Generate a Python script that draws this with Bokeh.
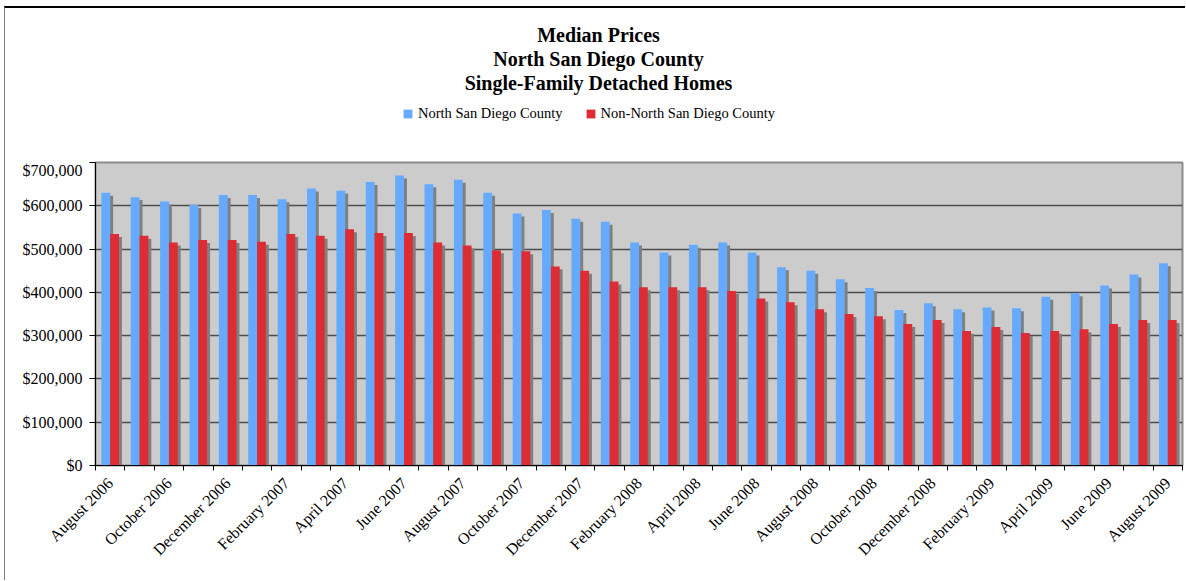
import numpy as np
from bokeh.plotting import figure
from bokeh.layouts import column
from bokeh.models import (Range1d, FixedTicker, NumeralTickFormatter, Label,
                          Legend, LegendItem)
from bokeh.embed import file_html
from bokeh.resources import INLINE

months = ["August 2006", "September 2006", "October 2006", "November 2006", "December 2006",
          "January 2007", "February 2007", "March 2007", "April 2007", "May 2007", "June 2007",
          "July 2007", "August 2007", "September 2007", "October 2007", "November 2007",
          "December 2007", "January 2008", "February 2008", "March 2008", "April 2008",
          "May 2008", "June 2008", "July 2008", "August 2008", "September 2008",
          "October 2008", "November 2008", "December 2008", "January 2009", "February 2009",
          "March 2009", "April 2009", "May 2009", "June 2009", "July 2009", "August 2009"]

north = [630000, 620000, 610000, 602000, 625000, 625000, 615000, 640000, 635000, 655000,
         670000, 650000, 660000, 630000, 582000, 590000, 570000, 563000, 515000, 492000,
         510000, 515000, 492000, 458000, 450000, 430000, 410000, 359000, 375000, 361000,
         365000, 363000, 390000, 398000, 416000, 441000, 467000]

non_north = [535000, 531000, 515000, 521000, 521000, 517000, 535000, 531000, 546000, 537000,
             537000, 515000, 508000, 497000, 495000, 460000, 450000, 425000, 412000, 412000,
             412000, 403000, 386000, 377000, 361000, 350000, 345000, 327000, 336000, 311000,
             320000, 306000, 311000, 315000, 327000, 336000, 336000]

title_lines = ["Median Prices", "North San Diego County", "Single-Family Detached Homes"]
series_names = ["North San Diego County", "Non-North San Diego County"]

BLUE = "#66AAFF"
RED = "#DD2C33"
SHADOW = "#808080"
FONT = "Liberation Serif"
W = 1180

idx = np.arange(len(months))
shadow_dy = 6900

# ---------------- header (title + legend) ----------------
h = figure(width=W, height=153, output_backend="svg", toolbar_location=None,
           x_axis_location=None, y_axis_location=None, x_range=Range1d(0, 1), y_range=Range1d(0, 1),
           min_border=0, min_border_left=0, min_border_right=0, min_border_top=0, min_border_bottom=0)
h.outline_line_color = None
h.grid.grid_line_color = None
h.background_fill_color = "white"
h.border_fill_color = "white"

for line, y in zip(title_lines, [127, 103, 79]):
    h.add_layout(Label(x=503, y=y, x_units="screen", y_units="screen", text=line,
                       text_align="center", text_baseline="alphabetic",
                       text_font=FONT, text_font_size="20px", text_font_style="bold",
                       text_color="black"))

# legend-only renderers (placed outside the header's visible range)
d1 = h.vbar(x=[-5], top=[-5], bottom=[-6], width=0.3, fill_color=BLUE, line_color=None)
d2 = h.vbar(x=[-5], top=[-5], bottom=[-6], width=0.3, fill_color=RED, line_color=None)
legend = Legend(items=[LegendItem(label=series_names[0], renderers=[d1]),
                       LegendItem(label=series_names[1], renderers=[d2])],
                location=(307, 39), orientation="horizontal",
                label_text_font=FONT, label_text_font_size="14.5px", label_text_color="black",
                glyph_width=11, glyph_height=11, label_height=16, label_standoff=5,
                spacing=22, padding=0, margin=0,
                border_line_color=None, background_fill_alpha=0)
h.add_layout(legend, "center")

# ---------------- chart ----------------
p = figure(width=W, height=419, output_backend="svg", toolbar_location=None,
           x_range=Range1d(-0.5, len(months) - 0.5), y_range=Range1d(0, 700000),
           min_border_left=90, min_border_right=3, min_border_top=1, min_border_bottom=115)

p.background_fill_color = "#CCCCCC"
p.border_fill_color = "white"
p.outline_line_color = "#8c8c8c"
p.outline_line_width = 2

p.vbar(x=idx - 0.15 + 0.1, top=np.array(north) - shadow_dy, bottom=0, width=0.3,
       fill_color=SHADOW, line_color=None)
p.vbar(x=idx + 0.15 + 0.1, top=np.array(non_north) - shadow_dy, bottom=0, width=0.3,
       fill_color=SHADOW, line_color=None)
p.vbar(x=idx - 0.15, top=north, bottom=0, width=0.3, fill_color=BLUE, line_color=None)
p.vbar(x=idx + 0.15, top=non_north, bottom=0, width=0.3, fill_color=RED, line_color=None)

p.xgrid.grid_line_color = None
p.ygrid.grid_line_color = "#4d4d4d"
p.ygrid.grid_line_width = 1.5
p.ygrid.ticker = FixedTicker(ticks=list(range(0, 700001, 100000)))

p.yaxis.ticker = FixedTicker(ticks=list(range(0, 700001, 100000)))
p.yaxis.formatter = NumeralTickFormatter(format="$0,0")
p.yaxis.axis_line_color = "black"
p.yaxis.major_tick_out = 6
p.yaxis.major_tick_in = 0
p.yaxis.minor_tick_line_color = None
p.yaxis.major_label_text_font = FONT
p.yaxis.major_label_text_font_size = "16px"
p.yaxis.major_label_text_color = "black"
p.yaxis.major_label_standoff = 7

label_ticks = [int(i) for i in idx if i % 2 == 0]
p.xaxis.ticker = FixedTicker(ticks=label_ticks, minor_ticks=[i - 0.5 for i in range(len(months) + 1)])
p.xaxis.major_label_overrides = {int(i): months[i] for i in label_ticks}
p.xaxis.major_tick_out = 0
p.xaxis.major_tick_in = 0
p.xaxis.minor_tick_out = 5
p.xaxis.minor_tick_in = 0
p.xaxis.minor_tick_line_color = "black"
p.xaxis.axis_line_color = "black"
p.xaxis.major_label_orientation = np.pi / 4
p.xaxis.major_label_text_font = FONT
p.xaxis.major_label_text_font_size = "16px"
p.xaxis.major_label_text_color = "black"
p.xaxis.major_label_standoff = 10

layout = column(h, p, spacing=0)
layout.styles = {"border-top": "2px solid #000000", "border-left": "1px solid #808080",
                 "margin-left": "4px", "margin-top": "6px"}

open("out.html", "w").write(file_html(layout, INLINE))
